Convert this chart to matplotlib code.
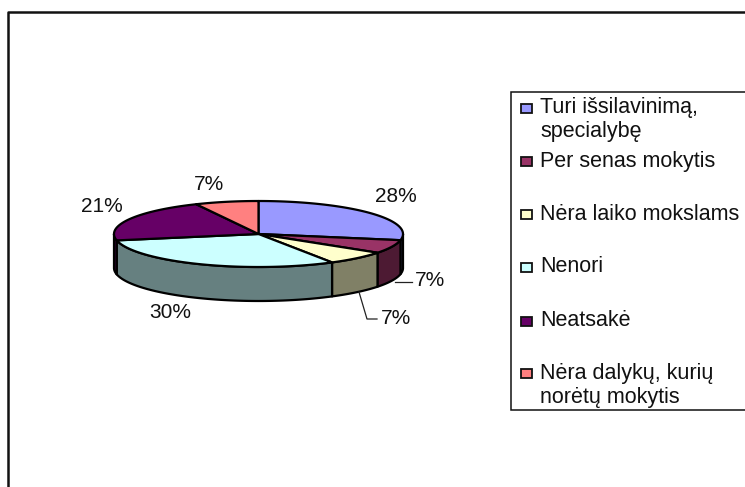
import numpy as np
import matplotlib
matplotlib.use("Agg")
import matplotlib.pyplot as plt
from matplotlib.patches import Rectangle

categories = ["Turi išsilavinimą,\nspecialybę", "Per senas mokytis", "Nėra laiko mokslams",
              "Nenori", "Neatsakė", "Nėra dalykų, kurių\nnorėtų mokytis"]
values = [28, 6.6, 6.9, 30.4, 21, 7.1]
value_labels = ["28%", "7%", "7%", "30%", "21%", "7%"]
top_colors = ["#9999FF", "#993366", "#FFFFCC", "#CCFFFF", "#660066", "#FF8080"]
side_colors = ["#4D4D80", "#4D1A33", "#808066", "#668080", "#330033", "#804040"]
label_pos = [(396, 197), (430, 281), (396, 318), (170, 312), (102, 207), (209, 184)]
legend_y = [108, 161, 214, 267, 321, 373]

plt.rcParams["font.family"] = ["Liberation Sans", "DejaVu Sans"]
fig = plt.figure(figsize=(7.45, 4.87), dpi=100)
ax = fig.add_axes([0, 0, 1, 1])
ax.set_xlim(0, 745)
ax.set_ylim(487, 0)
ax.axis("off")

cx, cy, rx, ry, depth = 258.5, 234, 144.5, 33, 34
EC = "#000000"

def pt(t):
    return cx + rx * np.sin(t), cy - ry * np.cos(t)

bounds = np.deg2rad(np.cumsum([0] + values) / sum(values) * 360)

# side walls (only the front half of the disc shows)
for i in range(len(values)):
    a = max(bounds[i], np.pi / 2)
    b = min(bounds[i + 1], 3 * np.pi / 2)
    if b <= a:
        continue
    t = np.linspace(a, b, 80)
    x, y = pt(t)
    xs = np.r_[x, x[::-1]]
    ys = np.r_[y, y[::-1] + depth]
    ax.fill(xs, ys, facecolor=side_colors[i], edgecolor=EC, lw=1.6, joinstyle="round", zorder=2)

# top slices
for i in range(len(values)):
    t = np.linspace(bounds[i], bounds[i + 1], 120)
    x, y = pt(t)
    ax.fill(np.r_[cx, x], np.r_[cy, y], facecolor=top_colors[i], edgecolor=EC, lw=1.6,
            joinstyle="round", zorder=3)

# data labels
for s, (lx, ly) in zip(value_labels, label_pos):
    ax.text(lx, ly, s, ha="center", va="center", fontsize=15, color="#111111", zorder=5)

# leader lines
ax.plot([395, 412], [282, 282], color="#222222", lw=0.9, zorder=4)
ax.plot([359, 367, 377], [292, 319, 319], color="#222222", lw=0.9, zorder=4)

# outer frame
ax.plot([8, 8, 745], [487, 12, 12], color="#111111", lw=1.8, zorder=1, clip_on=False)

# legend
ax.add_patch(Rectangle((511, 92), 240, 318, facecolor="white", edgecolor="#111111", lw=1.1, zorder=4))
for c, col, y in zip(categories, top_colors, legend_y):
    ax.add_patch(Rectangle((521, y - 4.5), 11, 9.5, facecolor=col, edgecolor="#111111", lw=1.3, zorder=5))
    lines = c.split("\n")
    for k, line in enumerate(lines):
        ax.text(540, y + 24 * k, line, ha="left", va="center", fontsize=15.5, color="#111111", zorder=5)

fig.savefig("out.png", dpi=100)
